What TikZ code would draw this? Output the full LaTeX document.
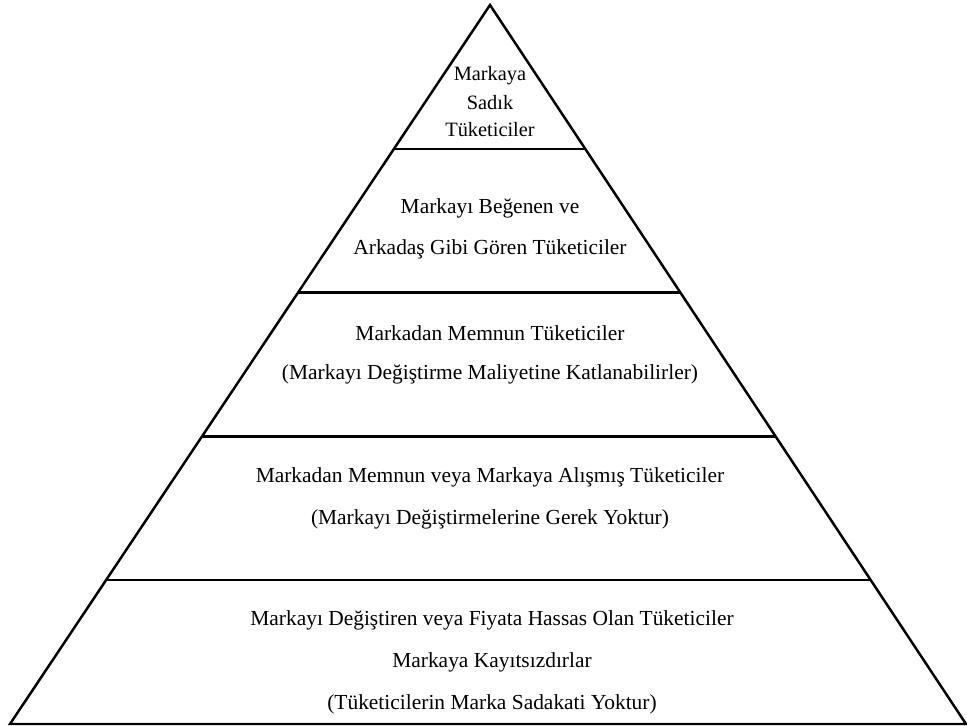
\documentclass[tikz,border=0pt]{standalone}
\usepackage{fontspec}
\setmainfont{Liberation Serif}
\usepackage{tikz}
\usetikzlibrary{calc}

\tikzset{
  layertext/.style={inner sep=0pt, font=\fontsize{12.2}{14}\selectfont},
  toptext/.style={inner sep=0pt, font=\fontsize{11.6}{13}\selectfont},
  pyrline/.style={color=black, line width=1.4pt, line join=miter}
}

\begin{document}
\begin{tikzpicture}[x=0.02cm, y=-0.02cm]
\useasboundingbox (0,0) rectangle (967,726);
% corners of the pyramid
\coordinate (apex) at (490,5);
\coordinate (bl) at (10,724);
\coordinate (br) at (966,724);
% dividing levels
\foreach \i/\t in {1/0.8, 2/0.6, 3/0.4, 4/0.2} {
  \coordinate (l\i) at ($(apex)!\t!(bl)$);
  \coordinate (r\i) at ($(apex)!\t!(br)$);
}
\draw[pyrline] (bl) -- (apex) -- (br) -- cycle;
\draw[pyrline] (l1) -- (r1);
\draw[pyrline] (l2) -- (r2);
\draw[pyrline] (l3) -- (r3);
\draw[pyrline] (l4) -- (r4);
% top
\node[toptext] (t1) at (490,76) {Markaya};
\node[toptext] (t2) at (490,103) {Sadık};
\node[toptext] (t3) at (490,130) {Tüketiciler};
% second
\node[layertext] (b1) at (490,208) {Markayı Beğenen ve};
\node[layertext] (b2) at (490,249) {Arkadaş Gibi Gören Tüketiciler};
% third
\node[layertext] (c1) at (490,333) {Markadan Memnun Tüketiciler};
\node[layertext] (c2) at (490,374) {(Markayı Değiştirme Maliyetine Katlanabilirler)};
% fourth
\node[layertext] (d1) at (490,477) {Markadan Memnun veya Markaya Alışmış Tüketiciler};
\node[layertext] (d2) at (490,519) {(Markayı Değiştirmelerine Gerek Yoktur)};
% bottom
\node[layertext] (e1) at (492,620) {Markayı Değiştiren veya Fiyata Hassas Olan Tüketiciler};
\node[layertext] (e2) at (492,662) {Markaya Kayıtsızdırlar};
\node[layertext] (e3) at (492,704) {(Tüketicilerin Marka Sadakati Yoktur)};
\end{tikzpicture}
\end{document}
